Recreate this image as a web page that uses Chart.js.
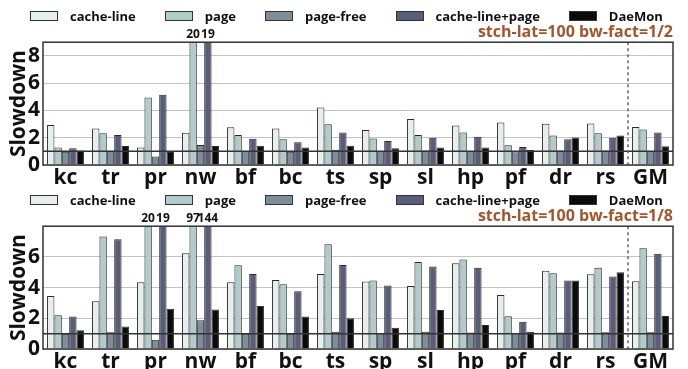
<!DOCTYPE html>
<html>
<head>
<meta charset="utf-8">
<script src="https://cdn.jsdelivr.net/npm/chart.js@4.4.0/dist/chart.umd.min.js"></script>
<style>
body { margin:0; background:#fff; width:688px; height:369px; overflow:hidden; position:relative; font-family:"Open Sans", sans-serif; }
.panel { position:absolute; left:0; width:688px; }
.legend { position:absolute; left:30px; top:7px; display:flex; align-items:center; font-weight:700; font-size:13px; color:#111; white-space:nowrap; }
.legend .item { display:flex; align-items:center; margin-right:29px; }
.legend i { display:inline-block; width:26px; height:8px; border:1px solid #333; margin-right:12px; }
</style>
</head>
<body>
<div class="panel" id="p1" style="top:0;height:192px"><canvas id="c1" width="688" height="192"></canvas><div class="legend" id="l1"></div></div>
<div class="panel" id="p2" style="top:184px;height:185px"><canvas id="c2" width="688" height="185"></canvas><div class="legend" id="l2"></div></div>
<script>
const categories = ['kc','tr','pr','nw','bf','bc','ts','sp','sl','hp','pf','dr','rs','GM'];
const seriesNames = ['cache-line','page','page-free','cache-line+page','DaeMon'];

// stch-lat=100 bw-fact=1/2
const cacheLineHalf = [2.93,2.68,1.29,2.37,2.76,2.68,4.22,2.56,3.37,2.90,3.12,3.02,3.05,2.78];
const pageHalf      = [1.29,2.32,4.95,20,2.20,1.88,2.98,1.95,2.20,2.39,1.44,2.17,2.32,2.61];
const pageFreeHalf  = [0.98,1.05,0.63,1.46,1.02,0.98,1.12,1.02,1.07,1.02,1.00,1.07,1.07,1.02];
const comboHalf     = [1.22,2.20,5.15,19,1.93,1.66,2.39,1.76,2.00,2.07,1.32,1.88,2.00,2.39];
const daemonHalf    = [1.07,1.39,0.95,1.39,1.41,1.29,1.41,1.22,1.29,1.29,1.10,2.02,2.17,1.37];

// stch-lat=100 bw-fact=1/8
const cacheLineEighth = [3.46,3.11,4.35,6.24,4.35,4.50,4.89,4.39,4.11,5.59,3.52,5.09,4.87,4.41];
const pageEighth      = [2.20,7.33,20,97,5.46,4.22,6.83,4.46,5.67,5.83,2.13,4.93,5.30,6.57];
const pageFreeEighth  = [1.00,1.09,0.61,1.87,1.00,1.00,1.13,1.04,1.13,1.07,1.02,1.07,1.09,1.09];
const comboEighth     = [2.11,7.15,19,144,4.89,3.76,5.48,4.13,5.37,5.30,1.78,4.46,4.72,6.20];
const daemonEighth    = [1.22,1.46,2.63,2.57,2.80,2.11,2.00,1.39,2.54,1.57,1.13,4.46,5.00,2.15];

const yTicksHalf = [0,2,4,6,8];
const yTicksEighth = [0,2,4,6];

const colors = ['#e6efed','#b0cbc9','#7b8e9a','#5a5d7a','#0b0b0b'];
const fam = '"Open Sans", sans-serif';

function buildLegend(id) {
    var el = document.getElementById(id);
    for (var i = 0; i < seriesNames.length; i++) {
        var item = document.createElement('span');
        item.className = 'item';
        var box = document.createElement('i');
        box.style.background = colors[i];
        item.appendChild(box);
        item.appendChild(document.createTextNode(seriesNames[i]));
        el.appendChild(item);
    }
}

// box, baseline at 1, GM separator and values of clipped bars
const extras = {
    id: 'extras',
    afterDatasetsDraw(chart) {
        const ctx = chart.ctx, a = chart.chartArea, x = chart.scales.x, y = chart.scales.y;
        ctx.save();
        const y1 = y.getPixelForValue(1);
        ctx.strokeStyle = '#333';
        ctx.lineWidth = 1.5;
        ctx.beginPath(); ctx.moveTo(a.left, y1); ctx.lineTo(a.right, y1); ctx.stroke();

        const xs = (x.getPixelForValue(categories.length - 2) + x.getPixelForValue(categories.length - 1)) / 2;
        ctx.setLineDash([3, 3]);
        ctx.strokeStyle = '#666';
        ctx.beginPath(); ctx.moveTo(xs, a.top); ctx.lineTo(xs, a.bottom); ctx.stroke();
        ctx.setLineDash([]);

        ctx.strokeStyle = '#333';
        ctx.strokeRect(a.left, a.top, a.right - a.left, a.bottom - a.top);

        ctx.font = 'bold 12px ' + fam;
        ctx.fillStyle = '#111';
        ctx.textAlign = 'center';
        ctx.textBaseline = 'bottom';
        chart.data.datasets.forEach(function(ds, di) {
            const meta = chart.getDatasetMeta(di);
            ds.data.forEach(function(v, i) {
                if (v > y.max) ctx.fillText(String(v), meta.data[i].x, a.top - 2);
            });
        });
        ctx.restore();
    }
};

function makeChart(id, series, yMax, yTicks, titleText, canvasH) {
    const datasets = series.map(function(d, i) {
        return {
            label: seriesNames[i],
            data: d,
            backgroundColor: colors[i],
            borderColor: '#2a2a2a',
            borderWidth: 1,
            categoryPercentage: 0.82,
            barPercentage: 1.0
        };
    });
    return new Chart(document.getElementById(id), {
        type: 'bar',
        data: { labels: categories, datasets: datasets },
        options: {
            responsive: false,
            animation: false,
            layout: { padding: { top: 23, right: 15, left: 0, bottom: 0 } },
            plugins: {
                legend: { display: false },
                tooltip: { enabled: false },
                title: {
                    display: true, text: titleText, align: 'end', color: '#a4552b',
                    font: { family: fam, size: 16, weight: 'bold' }, padding: 0
                }
            },
            scales: {
                x: {
                    grid: { display: false },
                    border: { display: false },
                    ticks: { color: '#111', font: { family: fam, size: 21, weight: 'bold' }, padding: -8, maxRotation: 0, autoSkip: false },
                    afterFit: function(s) { s.height = canvasH - 165; }
                },
                y: {
                    min: 0, max: yMax,
                    border: { display: false },
                    grid: { color: '#c4c4c4', lineWidth: 1, drawTicks: false },
                    afterBuildTicks: function(s) { s.ticks = yTicks.map(function(v) { return { value: v }; }); },
                    ticks: { color: '#111', font: { family: fam, size: 21, weight: 'bold' }, padding: 3 },
                    title: { display: true, text: 'Slowdown', color: '#111', font: { family: fam, size: 21, weight: 'bold' }, padding: { top: 6, bottom: 0 } },
                    afterFit: function(s) { s.width = 43; }
                }
            }
        },
        plugins: [extras]
    });
}

buildLegend('l1');
buildLegend('l2');
makeChart('c1', [cacheLineHalf, pageHalf, pageFreeHalf, comboHalf, daemonHalf], 9, yTicksHalf, 'stch-lat=100 bw-fact=1/2', 192);
makeChart('c2', [cacheLineEighth, pageEighth, pageFreeEighth, comboEighth, daemonEighth], 8, yTicksEighth, 'stch-lat=100 bw-fact=1/8', 185);
</script>
</body>
</html>
